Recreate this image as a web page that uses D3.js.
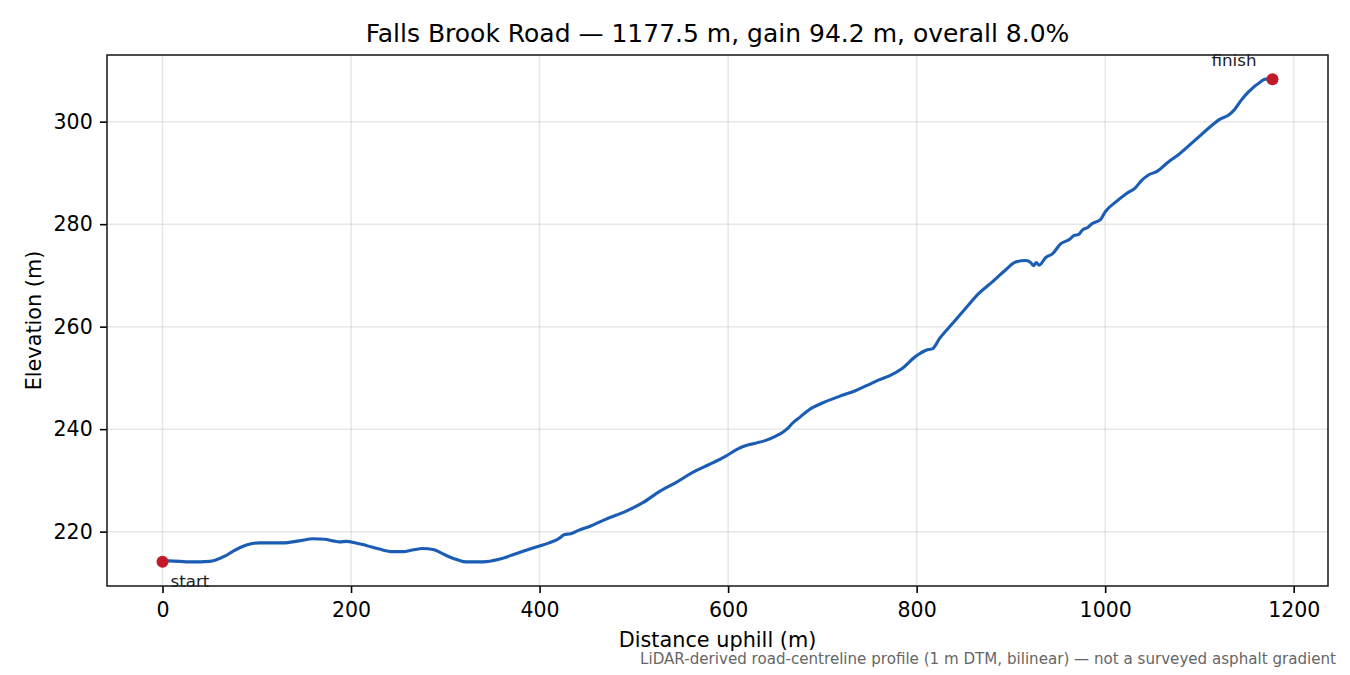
<!DOCTYPE html>
<html>
<head>
<meta charset="utf-8">
<script src="https://cdn.jsdelivr.net/npm/d3@7"></script>
<style>
  body { margin: 0; background: #fff; }
  svg text { font-family: "DejaVu Sans", sans-serif; }
</style>
</head>
<body>
<div id="chart"></div>
<script>
// distance along the road (m) and elevation (m)
const distance = [0, 7, 30, 50, 57, 66, 75, 89, 103, 128, 145, 160, 172, 181, 188, 195, 205, 216, 230, 244,
    255, 265, 276, 287, 296, 304, 313, 322, 340, 357, 375, 393, 410, 421, 426, 433, 442, 453, 470, 492,
    510, 527, 545, 562, 580, 598, 610, 619, 630, 640, 650, 658, 664, 668, 676, 686, 700, 718, 735, 748,
    760, 771, 785, 799, 810, 817, 824, 838, 852, 866, 880, 894, 905, 916, 921, 924, 927, 930, 937, 944,
    953, 962, 967, 972, 976, 981, 986, 995, 1000, 1011, 1022, 1032, 1039, 1046, 1055, 1066, 1078, 1096, 1114, 1121,
    1131, 1136, 1144, 1152, 1165, 1170, 1177.5];
const elevation = [214.1, 214.3, 214.1, 214.2, 214.5, 215.2, 216.2, 217.4, 217.8, 217.8, 218.2, 218.6, 218.5, 218.2, 218.0, 218.1, 217.8, 217.3, 216.6, 216.1,
    216.1, 216.4, 216.7, 216.5, 215.8, 215.1, 214.5, 214.1, 214.1, 214.6, 215.7, 216.8, 217.8, 218.7, 219.4, 219.6, 220.3, 221.0, 222.4, 224.0,
    225.7, 227.8, 229.6, 231.5, 233.1, 234.8, 236.1, 236.8, 237.3, 237.8, 238.6, 239.4, 240.3, 241.1, 242.3, 243.8, 245.1, 246.4, 247.5, 248.6,
    249.6, 250.4, 251.9, 254.2, 255.4, 255.7, 257.6, 260.6, 263.6, 266.5, 268.7, 271.0, 272.6, 272.9, 272.5, 271.9, 272.5, 272.0, 273.5, 274.2,
    276.2, 277.0, 277.8, 278.0, 278.9, 279.3, 280.1, 280.9, 282.4, 284.3, 285.9, 287.1, 288.6, 289.6, 290.3, 292.0, 293.6, 296.5, 299.4, 300.4,
    301.3, 302.1, 304.1, 305.8, 307.8, 308.3, 308.3];

const endpointLabels = ["start", "finish"];
const xTicks = [0, 200, 400, 600, 800, 1000, 1200];
const yTicks = [220, 240, 260, 280, 300];

const W = 1350, H = 675;
const plotL = 107, plotR = 1328, plotT = 55, plotB = 586;

const data = distance.map((d, i) => ({ d: d, e: elevation[i] }));

// 5% padding like the original
const xPad = (d3.max(distance) - d3.min(distance)) * 0.05;
const yPad = (d3.max(elevation) - d3.min(elevation)) * 0.05;

const x = d3.scaleLinear()
    .domain([d3.min(distance) - xPad, d3.max(distance) + xPad])
    .range([plotL, plotR]);
const y = d3.scaleLinear()
    .domain([d3.min(elevation) - yPad, d3.max(elevation) + yPad])
    .range([plotB, plotT]);

const svg = d3.select("#chart").append("svg")
    .attr("width", W)
    .attr("height", H);

// grid
svg.append("g").selectAll("line").data(xTicks).join("line")
    .attr("x1", d => x(d)).attr("x2", d => x(d))
    .attr("y1", plotT).attr("y2", plotB)
    .attr("stroke", "#b0b0b0").attr("stroke-opacity", 0.3).attr("stroke-width", 1.5);
svg.append("g").selectAll("line").data(yTicks).join("line")
    .attr("x1", plotL).attr("x2", plotR)
    .attr("y1", d => y(d)).attr("y2", d => y(d))
    .attr("stroke", "#b0b0b0").attr("stroke-opacity", 0.3).attr("stroke-width", 1.5);

// axes
const xAxis = d3.axisBottom(x).tickValues(xTicks).tickFormat(d3.format("d"))
    .tickSize(7).tickPadding(9).tickSizeOuter(0);
const yAxis = d3.axisLeft(y).tickValues(yTicks).tickFormat(d3.format("d"))
    .tickSize(7).tickPadding(7.3).tickSizeOuter(0);

const gx = svg.append("g").attr("transform", `translate(0,${plotB})`).call(xAxis);
const gy = svg.append("g").attr("transform", `translate(${plotL},0)`).call(yAxis);
[gx, gy].forEach(g => {
    g.select(".domain").remove();
    g.selectAll(".tick line").attr("stroke", "#000").attr("stroke-width", 1.6);
    g.selectAll(".tick text").attr("fill", "#000").style("font-size", "20.5px")
        .style("font-family", "'DejaVu Sans', sans-serif");
});

// frame
svg.append("rect")
    .attr("x", plotL).attr("y", plotT)
    .attr("width", plotR - plotL).attr("height", plotB - plotT)
    .attr("fill", "none").attr("stroke", "#222").attr("stroke-width", 1.6);

// profile
const line = d3.line()
    .x(d => x(d.d))
    .y(d => y(d.e))
    .curve(d3.curveMonotoneX);

svg.append("path")
    .datum(data)
    .attr("fill", "none")
    .attr("stroke", "#1b5db4")
    .attr("stroke-width", 3.1)
    .attr("stroke-linejoin", "round")
    .attr("d", line);

// start / finish points
const ends = [data[0], data[data.length - 1]];
svg.append("g").selectAll("circle").data(ends).join("circle")
    .attr("cx", d => x(d.d))
    .attr("cy", d => y(d.e))
    .attr("r", 6)
    .attr("fill", "#c41a28");

svg.append("text")
    .attr("x", x(ends[0].d) + 8)
    .attr("y", y(ends[0].e) + 25)
    .style("font-size", "16.7px").attr("fill", "#222")
    .text(endpointLabels[0]);
svg.append("text")
    .attr("x", x(ends[1].d) - 16)
    .attr("y", y(ends[1].e) - 13)
    .attr("text-anchor", "end")
    .style("font-size", "16.7px").attr("fill", "#222")
    .text(endpointLabels[1]);

// titles
svg.append("text")
    .attr("x", (plotL + plotR) / 2).attr("y", 42)
    .attr("text-anchor", "middle")
    .style("font-size", "25px")
    .text("Falls Brook Road — 1177.5 m, gain 94.2 m, overall 8.0%");

svg.append("text")
    .attr("x", (plotL + plotR) / 2).attr("y", 647)
    .attr("text-anchor", "middle")
    .style("font-size", "20.8px")
    .text("Distance uphill (m)");

svg.append("text")
    .attr("transform", `translate(41,${(plotT + plotB) / 2}) rotate(-90)`)
    .attr("text-anchor", "middle")
    .style("font-size", "20.8px")
    .text("Elevation (m)");

svg.append("text")
    .attr("x", 1336).attr("y", 664)
    .attr("text-anchor", "end")
    .style("font-size", "15.1px")
    .attr("fill", "#666")
    .text("LiDAR-derived road-centreline profile (1 m DTM, bilinear) — not a surveyed asphalt gradient");
</script>
</body>
</html>
